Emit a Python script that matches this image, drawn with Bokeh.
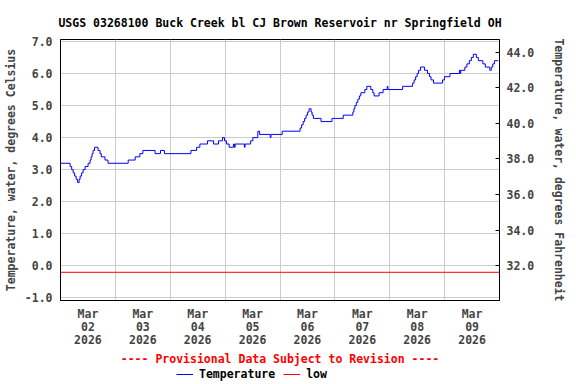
from bokeh.plotting import figure
from bokeh.layouts import column
from bokeh.models import (Range1d, LinearAxis, FixedTicker, PrintfTickFormatter,
                          Legend, LegendItem, Title)
from bokeh.embed import file_html
from bokeh.resources import INLINE

# ---------------- data ----------------
title_text = "USGS 03268100 Buck Creek bl CJ Brown Reservoir nr Springfield OH"
provisional_text = "---- Provisional Data Subject to Revision ----"
left_axis_label = "Temperature, water, degrees Celsius"
right_axis_label = "Temperature, water, degrees Fahrenheit"
series_names = ["Temperature", "low"]

# hours since 2026-03-02 00:00 (level changes of the 15-minute record)
temp_hours = [
    0.00, 4.22, 4.88, 5.53, 6.18, 6.84, 7.49, 8.14, 8.58, 9.23, 9.88, 10.75,
    12.06, 12.93, 13.37, 13.80, 14.24, 14.89, 16.41, 17.29, 17.85, 19.46,
    20.77, 29.61, 32.66, 34.70, 36.01, 41.36, 43.71, 45.46, 57.04, 59.52,
    60.96, 64.31, 66.92, 69.10, 70.84, 71.71, 72.58, 73.76, 75.63, 76.06,
    76.37, 80.42, 80.72, 83.16, 84.12, 86.30, 87.08, 91.74, 92.04, 96.96,
    104.80, 105.45, 106.11, 106.76, 107.41, 108.07, 108.72, 109.59, 110.03,
    110.59, 113.94, 118.73, 123.65, 127.88, 128.31, 128.75, 129.40, 130.05,
    130.71, 131.36, 133.10, 133.97, 135.71, 136.58, 137.15, 139.33, 141.07,
    142.90, 143.20, 149.65, 154.00, 154.65, 155.31, 155.96, 156.61, 157.48,
    159.23, 160.53, 161.40, 162.06, 163.14, 167.06, 167.93, 170.33, 174.46,
    174.77, 175.03, 176.86, 177.73, 178.82, 179.69, 180.56, 181.87, 182.74,
    184.70, 185.79, 187.75, 188.40, 189.05, 189.83, 191.45,
]
temp_celsius = [
    3.2, 3.1, 3.0, 2.9, 2.8, 2.7, 2.6, 2.7, 2.8, 2.9, 3.0, 3.1,
    3.2, 3.3, 3.4, 3.5, 3.6, 3.7, 3.6, 3.5, 3.4, 3.3,
    3.2, 3.3, 3.4, 3.5, 3.6, 3.5, 3.6, 3.5, 3.6, 3.7,
    3.8, 3.9, 3.8, 3.9, 4.0, 3.9, 3.8, 3.7, 3.8, 3.7,
    3.8, 3.7, 3.8, 3.9, 4.0, 4.2, 4.1, 4.0, 4.1, 4.2,
    4.3, 4.4, 4.5, 4.6, 4.7, 4.8, 4.9, 4.8, 4.7,
    4.6, 4.5, 4.6, 4.7, 4.8, 4.9, 5.0, 5.1, 5.2,
    5.3, 5.4, 5.5, 5.6, 5.5, 5.4, 5.3, 5.4, 5.5,
    5.6, 5.5, 5.6, 5.7, 5.8, 5.9, 6.0, 6.1, 6.2,
    6.1, 6.0, 5.9, 5.8, 5.7, 5.8, 5.9, 6.0, 6.1,
    6.0, 6.1, 6.2, 6.3, 6.4, 6.5, 6.6, 6.5, 6.4,
    6.3, 6.2, 6.1, 6.2, 6.3, 6.4, 6.4,
]
low_celsius = -0.2

period_hours = [0, 192]                      # Mar 02 00:00 .. Mar 10 00:00
day_tick_hours = [12, 36, 60, 84, 108, 132, 156, 180]
day_tick_labels = ["Mar\n02\n2026", "Mar\n03\n2026", "Mar\n04\n2026", "Mar\n05\n2026",
                   "Mar\n06\n2026", "Mar\n07\n2026", "Mar\n08\n2026", "Mar\n09\n2026"]
day_grid_hours = [24, 48, 72, 96, 120, 144, 168]
celsius_ticks = [-1, 0, 1, 2, 3, 4, 5, 6, 7]
fahrenheit_ticks = [32, 34, 36, 38, 40, 42, 44]
celsius_limits = [-1.08, 7.06]

# ---------------- style ----------------
FONT = "DejaVu Sans Mono"
FS = "11.5px"
BLUE = "#0000ff"
RED = "#ff0000"

p = figure(width=576, height=366, output_backend="svg", toolbar_location=None,
           x_range=Range1d(period_hours[0], period_hours[1]),
           y_range=Range1d(celsius_limits[0], celsius_limits[1]),
           min_border_left=58, min_border_right=77, min_border_top=39,
           min_border_bottom=66)
p.background_fill_color = "white"
p.border_fill_color = "white"
p.outline_line_color = "black"
p.outline_line_width = 1

p.title.text = title_text
p.title.align = "center"
p.title.text_font = FONT
p.title.text_font_size = FS
p.title.text_font_style = "bold"
p.title.text_color = "black"
p.title.standoff = 20

# grids
p.xgrid.ticker = FixedTicker(ticks=day_grid_hours)
p.ygrid.ticker = FixedTicker(ticks=celsius_ticks)
for g in (p.xgrid, p.ygrid):
    g.grid_line_color = "#cccccc"
    g.grid_line_width = 1

# bottom axis
xa = p.xaxis[0]
xa.ticker = FixedTicker(ticks=day_tick_hours)
xa.major_label_overrides = {float(h): lab for h, lab in zip(day_tick_hours, day_tick_labels)}
xa.major_tick_out = 0
xa.major_tick_in = 0
xa.minor_tick_line_color = None
xa.major_label_standoff = 6
xa.major_label_text_font = FONT
xa.major_label_text_font_size = FS
xa.major_label_text_font_style = "bold"
xa.major_label_text_line_height = 0.93
xa.axis_line_color = "black"

# left axis
ya = p.yaxis[0]
ya.ticker = FixedTicker(ticks=celsius_ticks)
ya.formatter = PrintfTickFormatter(format="%.1f")
ya.major_tick_out = 0
ya.major_tick_in = 0
ya.minor_tick_line_color = None
ya.major_label_standoff = 8
ya.major_label_text_font = FONT
ya.major_label_text_font_size = FS
ya.major_label_text_font_style = "bold"
ya.axis_label = left_axis_label
ya.axis_label_text_font = FONT
ya.axis_label_text_font_size = FS
ya.axis_label_text_font_style = "bold"
ya.axis_label_standoff = 4
ya.axis_line_color = "black"

# right axis (Fahrenheit)
p.extra_y_ranges = {"F": Range1d(celsius_limits[0] * 9 / 5 + 32, celsius_limits[1] * 9 / 5 + 32)}
ra = LinearAxis(y_range_name="F", ticker=FixedTicker(ticks=fahrenheit_ticks),
                formatter=PrintfTickFormatter(format="%.1f"))
ra.major_tick_out = 0
ra.major_tick_in = 4
ra.major_tick_line_color = "black"
ra.minor_tick_line_color = None
ra.major_label_standoff = 7
ra.major_label_text_font = FONT
ra.major_label_text_font_size = FS
ra.major_label_text_font_style = "bold"
ra.axis_label = right_axis_label
ra.axis_label_text_font = FONT
ra.axis_label_text_font_size = FS
ra.axis_label_text_font_style = "bold"
ra.axis_label_standoff = 15
ra.axis_line_color = "black"
p.add_layout(ra, "right")

# data
p.step(temp_hours, temp_celsius, mode="after", line_color=BLUE, line_width=1)
p.line(period_hours, [low_celsius, low_celsius], line_color=RED, line_width=1)

# provisional notice
prov = Title(text=provisional_text, align="center", text_color=RED,
             text_font=FONT, text_font_size=FS, text_font_style="bold", standoff=1)
p.add_layout(prov, "below")

# ---------------- legend strip ----------------
lg = figure(width=576, height=18, output_backend="svg", toolbar_location=None,
            x_range=Range1d(period_hours[0], period_hours[1]),
            y_range=Range1d(celsius_limits[0], celsius_limits[1]),
            x_axis_location=None, y_axis_location=None, min_border=0)
lg.outline_line_color = None
lg.grid.visible = False
lg.background_fill_color = "white"
lg.border_fill_color = "white"
lr_temp = lg.step(temp_hours, temp_celsius, mode="after", line_color=BLUE, line_width=1, visible=False)
lr_low = lg.line(period_hours, [low_celsius, low_celsius], line_color=RED, line_width=1, visible=False)

legend = Legend(items=[LegendItem(label=series_names[0], renderers=[lr_temp]),
                       LegendItem(label=series_names[1], renderers=[lr_low])],
                orientation="horizontal", location=(116, 3),
                glyph_width=17, glyph_height=12, label_height=12, label_standoff=6,
                spacing=8, padding=0, margin=0,
                border_line_color=None, background_fill_alpha=0,
                inactive_fill_alpha=0,
                label_text_font=FONT, label_text_font_size=FS,
                label_text_font_style="bold", label_text_color="black")
lg.add_layout(legend, "center")

layout = column(p, lg, spacing=0)
open("out.html", "w").write(file_html(layout, INLINE))
